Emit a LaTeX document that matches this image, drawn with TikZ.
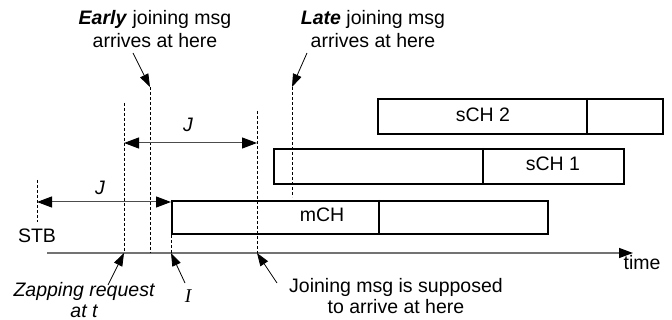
\documentclass[tikz,border=0pt]{standalone}
\usepackage{fontspec}
\setmainfont{Liberation Sans}
\newfontfamily\serifit{Liberation Serif}
\usetikzlibrary{arrows.meta}
\begin{document}
\begin{tikzpicture}[x=1pt,y=-1pt,
  every node/.style={font=\fontsize{19.5}{23}\selectfont, inner sep=0pt, anchor=base},
  chbox/.style={draw=black, line width=1.8pt, anchor=north west, minimum height=35pt},
  divider/.style={draw=black, line width=1.8pt},
  dline/.style={draw=black, line width=0.9pt, dash pattern=on 3pt off 2pt},
  axis/.style={draw=black!55, line width=1.5pt, -{Triangle[length=14pt,width=10pt,fill=black,color=black]}},
  dim/.style={draw=black!70, line width=1pt, {Triangle[length=15pt,width=11pt,color=black]}-{Triangle[length=15pt,width=11pt,color=black]}},
  note/.style={draw=black, line width=0.8pt, -{Triangle[length=13pt,width=9pt]}}
]
\useasboundingbox (0,0) rectangle (672,320);

% channel boxes
\node[chbox, minimum width=285pt] (sch2) at (377,98) {};
\node[chbox, minimum width=350pt] (sch1) at (273,148) {};
\node[chbox, minimum width=376pt, minimum height=33pt] (mch) at (171,200) {};
\draw[divider] (587,98) -- (587,133);
\draw[divider] (483,148) -- (483,183);
\draw[divider] (379,200) -- (379,233);
\node (t2) at (483,122) {sCH 2};
\node (t1) at (553,171) {sCH 1};
\node (t0) at (322,222) {mCH};

% time axis
\coordinate (ax0) at (47,253);
\coordinate (ax1) at (633,253);
\draw[axis] (ax0) -- (ax1);
\node (time) at (642,270) {time};

% dashed markers
\coordinate (stbT) at (37,180); \coordinate (stbB) at (37,222);
\coordinate (zapT) at (124,103); \coordinate (zapB) at (124,253);
\coordinate (earT) at (150,87);  \coordinate (earB) at (150,253);
\coordinate (iT) at (171,200);   \coordinate (iB) at (171,253);
\coordinate (supT) at (257,111); \coordinate (supB) at (257,253);
\coordinate (latT) at (292,87);  \coordinate (latB) at (292,197);
\draw[dline] (stbT) -- (stbB);
\draw[dline] (zapT) -- (zapB);
\draw[dline] (earT) -- (earB);
\draw[dline] (iT) -- (iB);
\draw[dline] (supT) -- (supB);
\draw[dline] (latT) -- (latB);
\node (stb) at (37,243) {STB};

% J dimensions
\coordinate (j1a) at (124,143); \coordinate (j1b) at (257,143);
\draw[dim] (j1a) -- (j1b);
\node (J1) at (188,132) {\itshape J};
\coordinate (j2a) at (37,202); \coordinate (j2b) at (171,202);
\draw[dim] (j2a) -- (j2b);
\node (J2) at (100,195) {\itshape J};

% top annotations
\node (early1) at (155,25) {\textbf{\itshape Early} joining msg};
\node (early2) at (155,48) {arrives at here};
\node (late1) at (373,25) {\textbf{\itshape Late} joining msg};
\node (late2) at (373,48) {arrives at here};
\coordinate (earS) at (133,53);
\coordinate (latS) at (307,53);
\draw[note] (earS) -- (earT);
\draw[note] (latS) -- (latT);

% bottom annotations
\node (zap1) at (84,297) {\itshape Zapping request};
\node (zap2) at (84,317) {\itshape at t};
\node (ilbl) at (188,302) {\serifit\itshape I};
\node (sup1) at (396,293) {Joining msg is supposed};
\node (sup2) at (396,314) {to arrive at here};
\coordinate (zapS) at (108,285);
\coordinate (iS) at (185,283);
\coordinate (supS) at (277,283);
\draw[note] (zapS) -- (zapB);
\draw[note] (iS) -- (iB);
\draw[note] (supS) -- (supB);
\end{tikzpicture}
\end{document}
